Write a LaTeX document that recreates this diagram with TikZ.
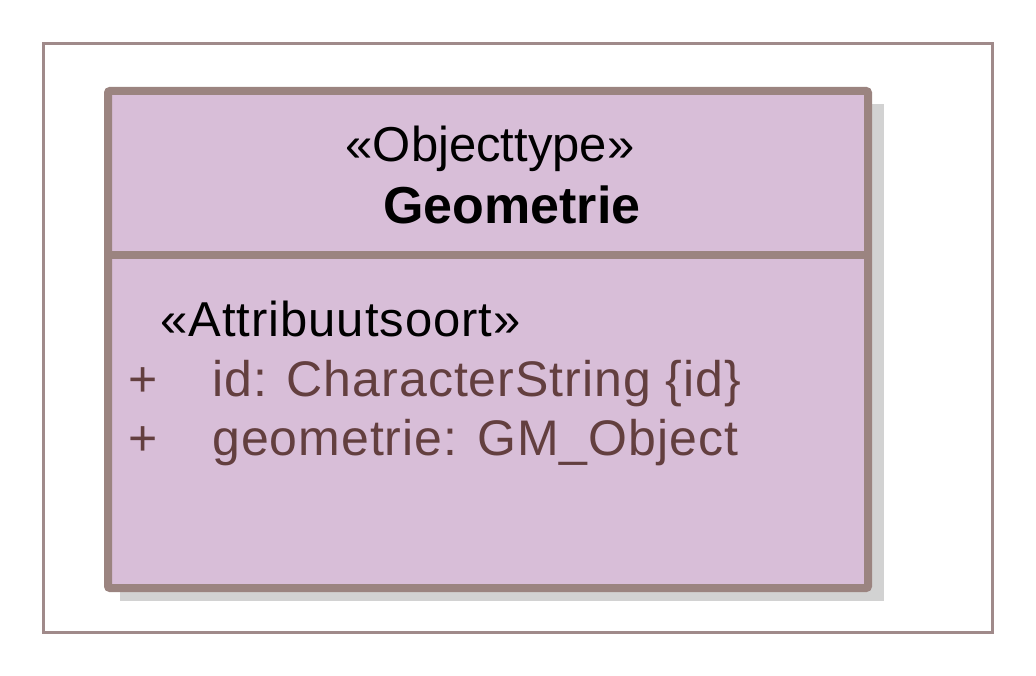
\documentclass[tikz,border=0pt]{standalone}
\usepackage{fontspec}
\setmainfont{Liberation Sans}
\newfontfamily\spacedfont[LetterSpace=2]{Liberation Sans}
\definecolor{frame}{HTML}{A08A8A}
\definecolor{boxline}{HTML}{9B8480}
\definecolor{boxfill}{HTML}{D8BED8}
\definecolor{shadow}{HTML}{D2D2D2}
\definecolor{attr}{HTML}{633F3F}
\begin{document}
\begin{tikzpicture}[x=1pt,y=-1pt,
  stereo/.style={font=\fontsize{49}{53}\selectfont, text=black, inner sep=0pt},
  stereob/.style={font=\spacedfont\fontsize{49}{53}\selectfont, text=black, inner sep=0pt},
  title/.style={font=\fontsize{52}{56}\selectfont\bfseries, text=black, inner sep=0pt},
  attrtxt/.style={font=\spacedfont\fontsize{50}{54}\selectfont, text=attr, inner sep=0pt, anchor=base west}]
\useasboundingbox (0,0) rectangle (1036,676);
\draw[frame, line width=3] (43,44) rectangle (992,632);
\fill[shadow] (120,104) rectangle (884,601);
\draw[boxline, fill=boxfill, line width=8, rounded corners=2] (108,91) rectangle (868,588);
\draw[boxline, line width=8] (108,255) -- (868,255);
\node[stereo, anchor=base] (st) at (490,162) {«Objecttype»};
\node[title, anchor=base] (nm) at (512,224) {Geometrie};
\node[stereob, anchor=base west] (as) at (160,336) {«Attribuutsoort»};
\node[attrtxt] (p1) at (128,396) {+};
\node[attrtxt] (a1) at (212,396) {id: CharacterString \{id\}};
\node[attrtxt] (p2) at (128,455) {+};
\node[attrtxt] (a2) at (212,455) {geometrie: GM\_Object};
\end{tikzpicture}
\end{document}
